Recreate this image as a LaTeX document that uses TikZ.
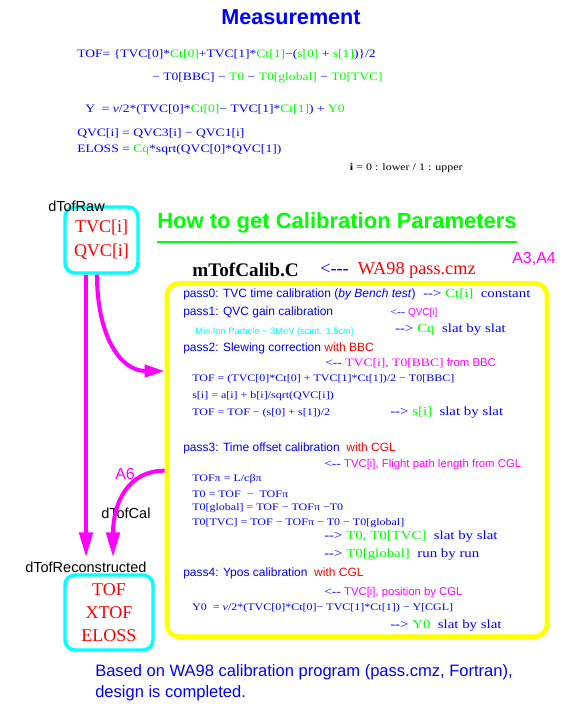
\documentclass[tikz,border=0pt]{standalone}
\usepackage{fontspec}
\setmainfont{Liberation Serif}
\setsansfont{Liberation Sans}
\newfontfamily\formfont[FakeStretch=1.2]{Liberation Serif}
\usetikzlibrary{arrows.meta}
\definecolor{magenta}{RGB}{255,0,255}
\definecolor{cyan}{RGB}{0,255,255}
\definecolor{yellow}{RGB}{255,255,0}
\definecolor{green}{RGB}{0,255,0}
\definecolor{blue}{RGB}{0,0,255}
\definecolor{red}{RGB}{255,0,0}
\newcommand\calval[1]{\textcolor{green}{#1}}
\newcommand\calsrc[1]{\textcolor{magenta}{#1}}

\begin{document}
\begin{tikzpicture}[x=0.75pt,y=-0.75pt,
  txt/.style={anchor=west,inner sep=0pt},
  meas/.style={txt,text=blue,font=\formfont\fontsize{8.5}{10}\selectfont},
  calcline/.style={txt,text=blue,font=\formfont\fontsize{7.5}{9}\selectfont},
  outnote/.style={txt,text=blue,font=\formfont\fontsize{9.3}{11}\selectfont},
  srcnote/.style={txt,text=magenta,font=\sffamily\fontsize{8.5}{10}\selectfont},
  passline/.style={txt,text=blue,font=\sffamily\fontsize{9}{11}\selectfont},
  tabname/.style={txt,font=\sffamily\fontsize{10.9}{13}\selectfont},
  tag/.style={txt,text=magenta,font=\sffamily\fontsize{12}{14}\selectfont},
  databox/.style={draw=cyan,line width=2.6pt,rounded corners=7.5pt,text=red,align=center,font=\fontsize{13.5}{18}\selectfont},
  calarrow/.style={draw=magenta,line width=3pt,-{Triangle[length=18.75pt,width=10pt]}},
  feedarrow/.style={draw=magenta,line width=3pt,-{Triangle[length=15pt,width=9pt]}}]
\useasboundingbox (0,0) rectangle (581,726);

\node[text=blue,font=\sffamily\bfseries\fontsize{16.2}{19}\selectfont] (title) at (291,17) {Measurement};
\node[meas] (m1) at (77,55) {TOF= \{TVC[0]*\calval{Ct[0]}+TVC[1]*\calval{Ct[1]}−(\calval{s[0]} + \calval{s[1]})\}/2};
\node[meas] (m2) at (152,78) {− T0[BBC] − \calval{T0} − \calval{T0[global]} − \calval{T0[TVC]}};
\node[meas] (m3) at (85,110) {Y \ = \textit{v}/2*(TVC[0]*\calval{Ct[0]}− TVC[1]*\calval{Ct[1]}) + \calval{Y0}};
\node[meas] (m4) at (77,133) {QVC[i] = QVC3[i] − QVC1[i]};
\node[meas] (m5) at (77,150) {ELOSS = \calval{Cq}*sqrt(QVC[0]*QVC[1])};
\node[calcline,anchor=east,text=black] (m6) at (463,168) {\textbf{i} = 0 : lower / 1 : upper};

\node[databox,minimum width=54.75pt,minimum height=49.5pt] (raw) at (101.5,240) {TVC[i]\\QVC[i]};
\node[tabname] (rawname) at (48,206) {dTofRaw};
\node[txt,text=green,font=\sffamily\bfseries\fontsize{16.5}{19}\selectfont] (calhead) at (157,223) {How to get Calibration Parameters};
\draw[draw=green,line width=1.5pt] ([yshift=-6pt]calhead.south west) -- ([yshift=-6pt]calhead.south east);
\node[tag] (a34) at (512,259) {A3,A4};
\node[txt,font=\bfseries\fontsize{14.4}{16}\selectfont] (prog) at (192,270) {mTofCalib.C};
\node[txt,text=red,font=\fontsize{13.7}{16}\selectfont] (orig) at (320,270) {\textcolor{blue}{<-{}-{}-} \ WA98 pass.cmz};

\node[draw=yellow,line width=3.5pt,rounded corners=9pt,minimum width=285pt,minimum height=265pt] (calib) at (357,460) {};

\node[passline] (p0) at (183,294) {pass0: TVC time calibration (\textit{by Bench test})};
\node[outnote] (p0out) at (423,294) {-{}-> \calval{Ct[i]} \ constant};
\node[passline] (p1) at (183,312) {pass1: QVC gain calibration};
\node[outnote,font=\formfont\fontsize{7.5}{9}\selectfont] (p1in) at (390,313) {<-{}- \calsrc{\sffamily QVC[i]}};
\node[txt,text=cyan,font=\sffamily\fontsize{7}{8}\selectfont] (mip) at (195,332) {Min.Ion Particle \textasciitilde{} 3MeV (scint. 1.5cm)};
\node[outnote] (p1out) at (395,330) {-{}-> \calval{Cq} \ slat by slat};
\node[passline] (p2) at (183,348) {pass2: Slewing correction \textcolor{red}{with BBC}};
\node[srcnote] (p2in) at (325,363) {{\formfont\textcolor{blue}{<-{}-} TVC[i], T0[BBC]} from BBC};
\node[calcline] (f1) at (192,379) {TOF = (TVC[0]*Ct[0] + TVC[1]*Ct[1])/2 − T0[BBC]};
\node[calcline] (f2) at (192,396) {s[i] = a[i] + b[i]/sqrt(QVC[i])};
\node[calcline] (f3) at (192,413) {TOF = TOF − (s[0] + s[1])/2};
\node[outnote] (p2out) at (390,413) {-{}-> \calval{s[i]} \ slat by slat};
\node[passline] (p3) at (183,448) {pass3: Time offset calibration \ \textcolor{red}{with CGL}};
\node[srcnote] (p3in) at (324,465) {{\formfont\textcolor{blue}{<-{}-}} TVC[i], Flight path length from CGL};
\node[calcline] (f4) at (192,479) {TOFπ = L/cβπ};
\node[calcline] (f5) at (192,494) {T0 = TOF \ − \ TOFπ};
\node[calcline] (f6) at (192,508) {T0[global] = TOF − TOFπ −T0};
\node[calcline] (f7) at (192,523) {T0[TVC] = TOF − TOFπ − T0 − T0[global]};
\node[outnote] (p3out) at (324,537) {-{}-> \calval{T0, T0[TVC]} \ slat by slat};
\node[outnote] (p3glob) at (324,555) {-{}-> \calval{T0[global]} \ run by run};
\node[passline] (p4) at (183,573) {pass4: Ypos calibration \ \textcolor{red}{with CGL}};
\node[srcnote] (p4in) at (324,593) {{\formfont\textcolor{blue}{<-{}-}} TVC[i], position by CGL};
\node[calcline] (f8) at (192,608) {Y0 \ = \textit{v}/2*(TVC[0]*Ct[0]− TVC[1]*Ct[1]) − Y[CGL]};
\node[outnote] (p4out) at (390,626) {-{}-> \calval{Y0} \ slat by slat};

\node[databox,minimum width=66pt,minimum height=56.25pt,font=\fontsize{13.5}{17.25}\selectfont] (reco) at (109,612.5) {TOF\\XTOF\\ELOSS};
\node[tabname] (reconame) at (25,567) {dTofReconstructed};
\node[tabname] (calname) at (101,513) {dTofCal};
\node[tag] (a6) at (115,474) {A6};

\coordinate (rawout) at ([xshift=-11.6pt]raw.south);
\coordinate (recoin) at ([yshift=12pt]reco.north);
\draw[calarrow] (rawout) -- (rawout |- recoin);
\draw[feedarrow] ([xshift=-3.4pt]raw.south) .. controls +(0,60) and +(-45,0) .. ([yshift=66.75pt]calib.west);
\draw[calarrow] ([yshift=-8pt]calib.west) .. controls +(-37,0) and +(0,-54) .. ([xshift=3pt]recoin);

\node[txt,text=blue,align=left,font=\sffamily\fontsize{12.4}{15.75}\selectfont] (note) at (95,682.5) {Based on WA98 calibration program (pass.cmz, Fortran),\\design is completed.};
\end{tikzpicture}
\end{document}
